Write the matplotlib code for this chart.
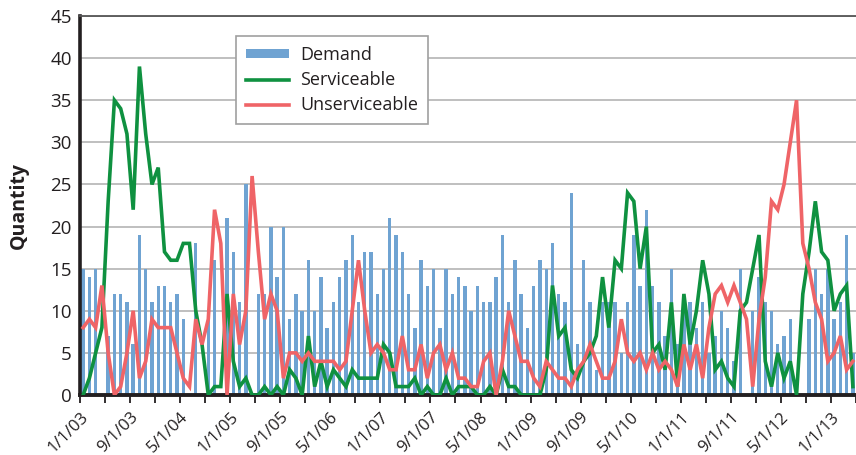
import matplotlib
matplotlib.use("Agg")
import matplotlib.pyplot as plt
import numpy as np

plt.rcParams['font.family'] = ['Open Sans', 'DejaVu Sans']

# Monthly categories: Jan 2003 .. Apr 2013 (124 months)
n_months = 124
tick_labels = ['1/1/03', '9/1/03', '5/1/04', '1/1/05', '9/1/05', '5/1/06',
               '1/1/07', '9/1/07', '5/1/08', '1/1/09', '9/1/09', '5/1/10',
               '1/1/11', '9/1/11', '5/1/12', '1/1/13']

demand = [15, 14, 15, 0, 7, 12, 12, 11, 6, 19, 15, 11, 13, 13, 11, 12, 9, 0, 18, 0,
          9, 16, 0, 21, 17, 11, 25, 0, 12, 12, 20, 14, 20, 9, 12, 10, 16, 10, 14, 8,
          11, 14, 16, 19, 11, 17, 17, 12, 15, 21, 19, 17, 12, 8, 16, 13, 15, 8, 15, 12,
          14, 13, 10, 13, 11, 11, 14, 19, 11, 16, 12, 8, 13, 16, 15, 18, 12, 11, 24, 6,
          16, 11, 3, 11, 11, 11, 5, 11, 19, 13, 22, 13, 11, 7, 15, 6, 11, 11, 8, 11,
          5, 7, 10, 8, 4, 15, 0, 10, 14, 11, 10, 6, 7, 9, 0, 0, 9, 15, 12, 15,
          9, 11, 19, 5]

serviceable = [0, 2, 5, 8, 23, 35, 34, 31, 22, 39, 31, 25, 27, 17, 16, 16, 18, 18, 10, 6,
               0, 1, 1, 12, 4, 1, 2, 0, 0, 1, 0, 1, 0, 3, 2, 0, 7, 1, 4, 1,
               3, 2, 1, 3, 2, 2, 2, 2, 6, 5, 1, 1, 1, 2, 0, 1, 0, 0, 2, 0,
               1, 1, 1, 0, 0, 1, 0, 3, 1, 1, 0, 0, 0, 0, 3, 13, 7, 8, 3, 2,
               4, 5, 7, 14, 8, 16, 15, 24, 23, 15, 20, 5, 6, 3, 11, 1, 12, 6, 10, 16,
               12, 3, 4, 2, 1, 10, 11, 15, 19, 4, 1, 5, 2, 4, 0, 12, 17, 23, 17, 16,
               10, 12, 13, 1]

unserviceable = [8, 9, 8, 13, 5, 0, 1, 5, 10, 2, 4, 9, 8, 8, 8, 5, 2, 1, 9, 6,
                 9, 22, 18, 0, 12, 6, 10, 26, 17, 9, 12, 10, 2, 5, 5, 4, 5, 4, 4, 4,
                 4, 3, 4, 10, 16, 10, 5, 6, 5, 3, 3, 7, 3, 3, 6, 2, 5, 6, 3, 5,
                 2, 2, 1, 1, 4, 5, 0, 4, 10, 7, 4, 4, 2, 1, 4, 3, 2, 2, 1, 3,
                 4, 6, 4, 2, 2, 4, 9, 5, 4, 5, 3, 5, 3, 4, 3, 1, 6, 3, 6, 2,
                 8, 12, 13, 11, 13, 11, 9, 1, 9, 14, 23, 22, 25, 30, 35, 18, 15, 11, 9, 4,
                 5, 7, 3, 4]

blue = '#6fa3d2'
green = '#0f9140'
red = '#ef6467'

fig = plt.figure(figsize=(8.56, 4.55), dpi=100)
ax = fig.add_axes([80 / 856, 1 - 395 / 455, 776 / 856, (395 - 16) / 455])

x = np.arange(n_months) + 0.5
hb = ax.bar(x, demand, width=0.55, color=blue, label='Demand', zorder=2)
hg, = ax.plot(x, serviceable, color=green, lw=2.6, label='Serviceable', zorder=3,
              solid_joinstyle='miter')
hr, = ax.plot(x, unserviceable, color=red, lw=2.6, label='Unserviceable', zorder=4,
              solid_joinstyle='miter')

ax.set_xlim(0, n_months)
ax.set_ylim(0, 45)
ax.set_yticks(np.arange(0, 46, 5))
ax.set_yticklabels([str(v) for v in range(0, 46, 5)], fontsize=13.5, color='#231f20')
ax.tick_params(axis='y', length=0, pad=6)
ax.yaxis.grid(True, color='#b4b4b4', lw=1.2)
ax.set_axisbelow(True)

ax.set_xticks(np.arange(0, n_months + 1, 4), minor=True)
ax.set_xticks(np.arange(0, 8 * len(tick_labels), 8))
ax.set_xticklabels(tick_labels, rotation=45, ha='right', va='top',
                   rotation_mode='anchor', fontsize=12, color='#231f20')
ax.tick_params(axis='x', which='both', direction='out', length=6, width=1.3,
               color='#231f20', pad=4)

ax.spines['right'].set_visible(False)
ax.spines['top'].set_color('#555555')
ax.spines['top'].set_linewidth(1.3)
ax.spines['left'].set_color('#231f20')
ax.spines['left'].set_linewidth(2.6)
ax.spines['bottom'].set_color('#231f20')
ax.spines['bottom'].set_linewidth(2.8)

ax.set_ylabel('Quantity', fontsize=14, fontweight='bold', color='#231f20')
ax.yaxis.set_label_coords(-0.066, 0.5)

leg = ax.legend([hb, hg, hr], ['Demand', 'Serviceable', 'Unserviceable'],
                loc='upper left', bbox_to_anchor=(0.201, 0.947), borderaxespad=0,
                frameon=True, fancybox=False, edgecolor='#a0a0a0', fontsize=13,
                handlelength=2.4, handleheight=0.45, labelspacing=0.4, borderpad=0.55,
                handletextpad=0.6, framealpha=1)
leg.get_frame().set_linewidth(1.2)
for t in leg.get_texts():
    t.set_color('#231f20')

fig.savefig('out.png', dpi=100)
